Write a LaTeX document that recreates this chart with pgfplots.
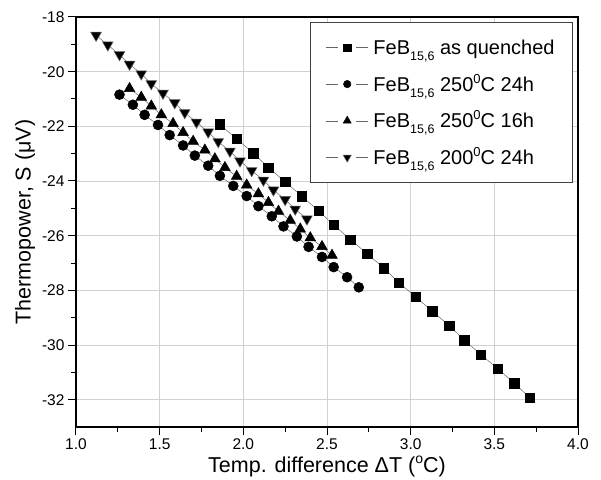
\documentclass[border=0pt]{standalone}
\usepackage{pgfplots}
\pgfplotsset{compat=1.18}
\usepackage{fontspec}
\setmainfont{Liberation Sans}

\newcommand{\lsub}[1]{\raisebox{-6pt}{\fontsize{12.5}{12}\selectfont #1}}
\newcommand{\lsup}[1]{\raisebox{8pt}{\fontsize{13}{12}\selectfont #1}}

\begin{document}
\begin{tikzpicture}
\begin{axis}[
  name=ax,
  scale only axis,
  width=502pt, height=410pt,
  xmin=1, xmax=4, ymin=-33, ymax=-18,
  xtick={1,1.5,2,2.5,3,3.5,4},
  ytick={-32,-30,-28,-26,-24,-22,-20,-18},
  minor x tick num=1, minor y tick num=1,
  xticklabel style={/pgf/number format/.cd, fixed, fixed zerofill, precision=1},
  /pgf/number format/assume math mode=true,
  tick label style={font=\fontsize{15.5}{15}\selectfont},
  label style={font=\fontsize{21.5}{22}\selectfont},
  tick pos=left, tick align=outside,
  major tick length=8pt, minor tick length=5pt,
  tick style={black, line width=1pt},
  axis line style={line width=1.2pt},
  grid=major,
  grid style={black!18, line width=0.6pt},
  xlabel={Temp. difference ΔT (\raisebox{8.5pt}{\fontsize{14}{14}\selectfont o}C)},
  ylabel={Thermopower, S (μV)},
  legend cell align=left,
  legend style={at={(rel axis cs:1,1)}, anchor=north east, xshift=-5pt, yshift=-5pt,
    draw=black!75, line width=0.8pt, inner xsep=16pt, inner ysep=10pt,
    row sep=6.7pt, column sep=3pt, font=\fontsize{20}{20}\selectfont,
    nodes={text height=20pt, text depth=6pt, inner sep=2pt}},
  legend image code/.code={
    \draw[mark=none] (0pt,0pt) -- (12pt,0pt);
    \draw[mark=none] (30pt,0pt) -- (42pt,0pt);
    \draw[draw=none, every mark/.append style={scale=0.75}] plot coordinates {(21pt,0pt)};
  },
  every axis plot/.append style={draw=black!60, line width=0.5pt,
    mark options={draw=black, fill=black, solid}},
]
% as quenched
\addplot[mark=square*, mark size=4.7pt] coordinates {
 (1.86,-21.93) (1.96,-22.46) (2.06,-22.98) (2.15,-23.51) (2.25,-24.03)
 (2.35,-24.56) (2.45,-25.09) (2.54,-25.61) (2.64,-26.14) (2.74,-26.66)
 (2.84,-27.19) (2.93,-27.72) (3.03,-28.24) (3.13,-28.77) (3.23,-29.29)
 (3.32,-29.82) (3.42,-30.35) (3.52,-30.87) (3.62,-31.40) (3.71,-31.92)
};
\addlegendentry{FeB\lsub{15,6} as quenched}

% 250C 24h
\addplot[mark=*, mark size=5pt] coordinates {
 (1.26,-20.84) (1.34,-21.21) (1.41,-21.58) (1.49,-21.95) (1.56,-22.32)
 (1.64,-22.70) (1.71,-23.07) (1.79,-23.44) (1.86,-23.81) (1.94,-24.18)
 (2.02,-24.55) (2.09,-24.92) (2.17,-25.29) (2.24,-25.66) (2.32,-26.03)
 (2.39,-26.41) (2.47,-26.78) (2.54,-27.15) (2.62,-27.52) (2.69,-27.89)
};
\addlegendentry{FeB\lsub{15,6} 250\lsup{0}C 24h}

% 250C 16h
\addplot[mark=triangle*, mark size=6.2pt] coordinates {
 (1.32,-20.62) (1.39,-20.94) (1.45,-21.26) (1.51,-21.58) (1.58,-21.90)
 (1.64,-22.23) (1.70,-22.55) (1.77,-22.87) (1.83,-23.19) (1.89,-23.51)
 (1.96,-23.83) (2.02,-24.15) (2.09,-24.47) (2.15,-24.79) (2.21,-25.11)
 (2.28,-25.44) (2.34,-25.76) (2.40,-26.08) (2.47,-26.40) (2.53,-26.72)
};
\addlegendentry{FeB\lsub{15,6} 250\lsup{0}C 16h}

% 200C 24h
\addplot[mark=triangle*, mark size=6.2pt, mark options={rotate=180}] coordinates {
 (1.12,-18.67) (1.19,-19.02) (1.26,-19.38) (1.32,-19.73) (1.39,-20.08)
 (1.45,-20.44) (1.52,-20.79) (1.59,-21.14) (1.65,-21.50) (1.72,-21.85)
 (1.79,-22.21) (1.85,-22.56) (1.92,-22.91) (1.98,-23.27) (2.05,-23.62)
 (2.12,-23.97) (2.18,-24.33) (2.25,-24.68) (2.31,-25.03) (2.38,-25.39)
};
\addlegendentry{FeB\lsub{15,6} 200\lsup{0}C 24h}
\end{axis}
\pgfresetboundingbox
\path[use as bounding box] ([xshift=-76pt,yshift=-52pt]ax.south west) rectangle ([xshift=23pt,yshift=17pt]ax.north east);
\end{tikzpicture}
\end{document}
